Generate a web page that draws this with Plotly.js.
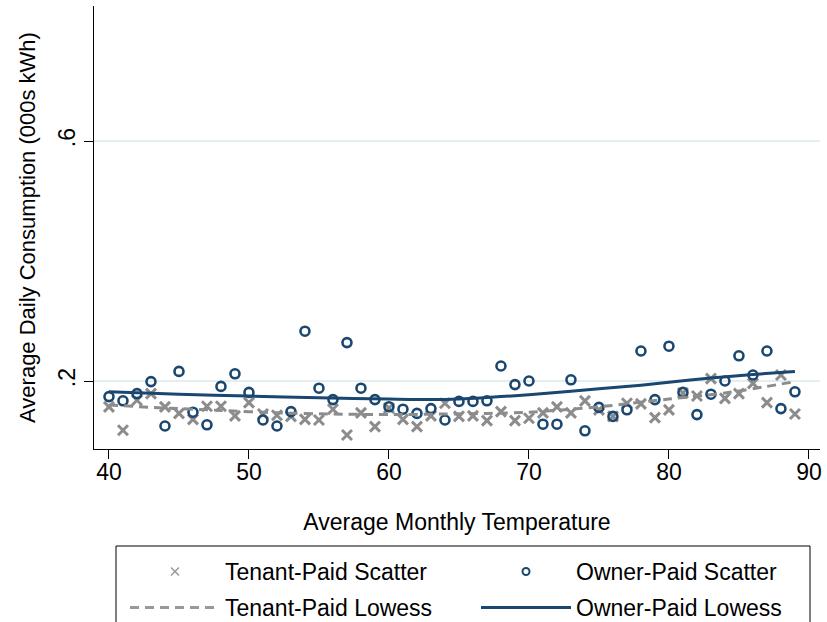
<!DOCTYPE html>
<html>
<head>
<meta charset="utf-8">
<script src="https://cdn.plot.ly/plotly-3.0.1.min.js"></script>
<style>html,body{margin:0;padding:0;background:#fff;}#chart{width:827px;height:622px;}</style>
</head>
<body>
<div id="chart"></div>
<script>
const temps = [40,41,42,43,44,45,46,47,48,49,50,51,52,53,54,55,56,57,58,59,60,61,62,63,64,65,66,67,68,69,70,71,72,73,74,75,76,77,78,79,80,81,82,83,84,85,86,87,88,89];
const tenantScatter = [0.157,0.118,0.168,0.179,0.157,0.146,0.136,0.158,0.158,0.142,0.164,0.145,0.143,0.141,0.136,0.135,0.153,0.110,0.147,0.124,0.155,0.136,0.124,0.142,0.163,0.141,0.142,0.134,0.149,0.134,0.138,0.147,0.157,0.147,0.167,0.152,0.141,0.163,0.162,0.139,0.152,0.180,0.175,0.204,0.171,0.179,0.196,0.164,0.210,0.145];
const ownerScatter = [0.174,0.167,0.179,0.199,0.125,0.216,0.148,0.127,0.191,0.212,0.181,0.135,0.125,0.149,0.283,0.188,0.169,0.264,0.188,0.169,0.157,0.153,0.146,0.154,0.135,0.166,0.166,0.167,0.225,0.194,0.200,0.128,0.128,0.202,0.117,0.156,0.141,0.152,0.250,0.169,0.258,0.181,0.144,0.178,0.200,0.242,0.210,0.250,0.154,0.182];
const tenantLowessX = [40,44,48,52,56,60,64,67,70,73,75,77,80,84,87,89];
const tenantLowessY = [0.160,0.155,0.151,0.147,0.145,0.144,0.145,0.146,0.148,0.153,0.157,0.162,0.170,0.180,0.191,0.199];
const ownerLowessX = [40,45,50,55,60,63,65,68,70,73,75,78,80,83,86,89];
const ownerLowessY = [0.182,0.178,0.175,0.172,0.170,0.169,0.170,0.174,0.177,0.183,0.187,0.193,0.198,0.205,0.211,0.216];
const seriesNames = ['Tenant-Paid Scatter','Owner-Paid Scatter','Tenant-Paid Lowess','Owner-Paid Lowess'];
const yTickVals = [0.2, 0.6];
const yTickText = ['.2', '.6'];
const xTickVals = [40,50,60,70,80,90];

const navy = '#1a476f';
const grey = '#8c8c8c';
const FONT = 'Liberation Sans, Arial, sans-serif';
const tenantDash = '9px,6px';
const W = 827, H = 622;

const traces = [
  {x: temps, y: tenantScatter, name: seriesNames[0], type: 'scatter', mode: 'markers', showlegend: false,
   marker: {symbol: 'x-thin', size: 10, line: {width: 3, color: grey}, color: grey}},
  {x: temps, y: ownerScatter, name: seriesNames[1], type: 'scatter', mode: 'markers', showlegend: false,
   marker: {symbol: 'circle-open', size: 9, line: {width: 2.6, color: navy}, color: navy}},
  {x: tenantLowessX, y: tenantLowessY, name: seriesNames[2], type: 'scatter', mode: 'lines', showlegend: false,
   line: {color: grey, width: 3, dash: tenantDash, shape: 'spline', smoothing: 0.6}},
  {x: ownerLowessX, y: ownerLowessY, name: seriesNames[3], type: 'scatter', mode: 'lines', showlegend: false,
   line: {color: navy, width: 3, shape: 'spline', smoothing: 0.6}},
  // legend keys (Stata draws smaller, thinner key symbols)
  {x: [null], y: [null], name: seriesNames[0], type: 'scatter', mode: 'markers', legend: 'legend',
   marker: {symbol: 'x-thin', size: 8, line: {width: 1.5, color: '#999'}, color: '#999'}},
  {x: [null], y: [null], name: seriesNames[1], type: 'scatter', mode: 'markers', legend: 'legend',
   marker: {symbol: 'circle-open', size: 7, line: {width: 2, color: navy}, color: navy}},
  {x: [null], y: [null], name: seriesNames[2], type: 'scatter', mode: 'lines', legend: 'legend2',
   line: {color: '#999', width: 3, dash: tenantDash}},
  {x: [null], y: [null], name: seriesNames[3], type: 'scatter', mode: 'lines', legend: 'legend2',
   line: {color: navy, width: 3}}
];

function legendCfg(topPx) {
  return {
    orientation: 'h', xref: 'container', yref: 'container',
    x: 125 / W, xanchor: 'left', y: 1 - topPx / H, yanchor: 'top',
    borderwidth: 0, bgcolor: 'rgba(0,0,0,0)',
    itemwidth: 90, entrywidth: 246, entrywidthmode: 'pixels',
    font: {size: 23, color: '#000'}, traceorder: 'normal'
  };
}

const layout = {
  width: W, height: H,
  margin: {l: 94, r: 7, t: 6, b: 173, autoexpand: false},
  paper_bgcolor: '#fff', plot_bgcolor: '#fff',
  font: {family: FONT, size: 23, color: '#000'},
  showlegend: true,
  xaxis: {
    range: [38.93, 90.79], tickvals: xTickVals, ticks: 'outside', ticklen: 9, tickwidth: 1, tickcolor: '#000',
    ticklabelstandoff: -7,
    showline: true, linecolor: '#000', linewidth: 1, showgrid: false, zeroline: false,
    tickfont: {size: 23}, title: {text: 'Average Monthly Temperature', font: {size: 23}, standoff: 30}
  },
  yaxis: {
    range: [0.0867, 0.825], tickvals: yTickVals, ticktext: yTickText, tickangle: -90,
    ticks: 'outside', ticklen: 9, tickwidth: 1, tickcolor: '#000',
    showline: true, linecolor: '#000', linewidth: 1, showgrid: true, gridcolor: '#e4eef0', gridwidth: 2,
    zeroline: false, tickfont: {size: 23},
    title: {text: 'Average Daily Consumption (000s kWh)', font: {size: 22}, standoff: 12}
  },
  shapes: [
    {type: 'rect', xref: 'paper', yref: 'paper',
     x0: (116 - 94) / 726, x1: (810 - 94) / 726, y0: (449 - 546) / 443, y1: (449 - 640) / 443,
     line: {color: '#000', width: 1}, fillcolor: 'rgba(0,0,0,0)', layer: 'below'}
  ],
  legend: legendCfg(550),
  legend2: legendCfg(586)
};

Plotly.newPlot('chart', traces, layout, {displayModeBar: false, staticPlot: true});
</script>
</body>
</html>
